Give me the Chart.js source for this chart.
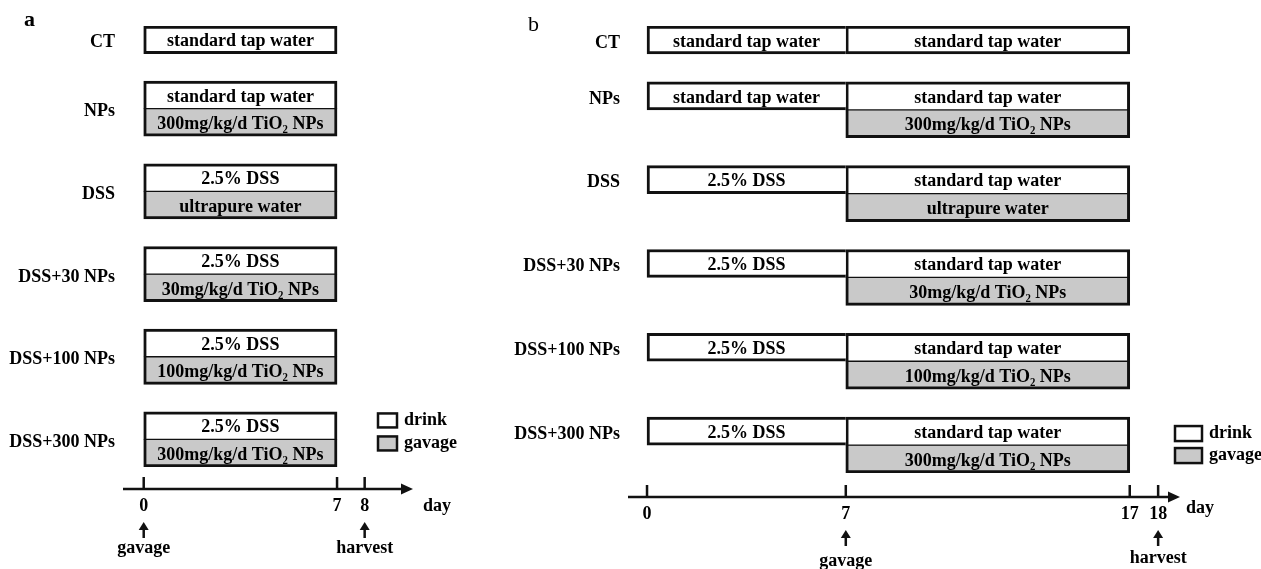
<!DOCTYPE html>
<html>
<head>
<meta charset="utf-8">
<script src="https://cdn.jsdelivr.net/npm/chart.js@4.4.1/dist/chart.umd.min.js"></script>
<style>
  body { margin: 0; background: #fff; }
  #wrap { position: relative; width: 1261px; height: 569px; overflow: hidden; }
  canvas { position: absolute; top: 0; }
  .panel { position: absolute; font-family: "Liberation Serif", "Times New Roman", serif; font-size: 22px; color: #000; }
</style>
</head>
<body>
<div id="wrap">
  <canvas id="chartA" width="490" height="569" style="left:0"></canvas>
  <canvas id="chartB" width="771" height="569" style="left:490px"></canvas>
  <span class="panel" style="left:24px; top:6px; font-weight:bold;">a</span>
  <span class="panel" style="left:528px; top:11px;">b</span>
</div>
<script>
// ---- data ----
const groups = ["CT", "NPs", "DSS", "DSS+30 NPs", "DSS+100 NPs", "DSS+300 NPs"];

// panel a
const drinkA = ["standard tap water", "standard tap water", "2.5% DSS", "2.5% DSS", "2.5% DSS", "2.5% DSS"];
const gavageA = [null, "300mg/kg/d TiO₂ NPs", "ultrapure water", "30mg/kg/d TiO₂ NPs", "100mg/kg/d TiO₂ NPs", "300mg/kg/d TiO₂ NPs"];
const drinkSpanA = [0, 7];
const gavageSpanA = [0, 7];
const ticksA = [0, 7, 8];
const eventDaysA = [0, 8];
const eventLabelsA = ["gavage", "harvest"];

// panel b
const drinkEarlyB = ["standard tap water", "standard tap water", "2.5% DSS", "2.5% DSS", "2.5% DSS", "2.5% DSS"];
const drinkLateB = ["standard tap water", "standard tap water", "standard tap water", "standard tap water", "standard tap water", "standard tap water"];
const gavageB = [null, "300mg/kg/d TiO₂ NPs", "ultrapure water", "30mg/kg/d TiO₂ NPs", "100mg/kg/d TiO₂ NPs", "300mg/kg/d TiO₂ NPs"];
const earlySpanB = [0, 7];
const lateSpanB = [7, 17];
const gavageSpanB = [7, 17];
const ticksB = [0, 7, 17, 18];
const eventDaysB = [7, 18];
const eventLabelsB = ["gavage", "harvest"];

const legendLabels = ["drink", "gavage"];

// ---- styles ----
const FONT = '"Liberation Serif", "Times New Roman", serif';
const FS = 18;
const GRAY = "#c9c9c9";
const INK = "#111";
const OUT = 3, IN = 1;

function buildRows(names, gavage) {
  const labels = [], drinkRow = [], gavageRow = [];
  names.forEach((g, i) => {
    drinkRow.push(labels.length); labels.push(g + " drink");
    if (gavage[i]) { gavageRow.push(labels.length); labels.push(g + " gavage"); }
    else gavageRow.push(null);
    if (i < names.length - 1) labels.push("gap " + i);
  });
  return { labels, drinkRow, gavageRow };
}

function fill(len, rows, value, texts) {
  const data = new Array(len).fill(null);
  const txt = new Array(len).fill(null);
  rows.forEach((r, i) => {
    if (r === null || r === undefined) return;
    if (texts && !texts[i]) return;
    data[r] = value;
    txt[r] = texts ? texts[i] : null;
  });
  return { data, txt };
}

function drawCentered(ctx, text, x, y, size) {
  ctx.font = "bold " + size + "px " + FONT;
  ctx.fillStyle = "#000";
  ctx.textAlign = "center";
  ctx.textBaseline = "middle";
  ctx.fillText(text, x, y);
}

const sketchPlugin = {
  id: "sketch",
  afterDatasetsDraw(chart, args, o) {
    const ctx = chart.ctx;
    const xs = chart.scales.x, ys = chart.scales.y;
    const area = chart.chartArea;
    ctx.save();
    // texts in bars
    chart.data.datasets.forEach((ds, di) => {
      chart.getDatasetMeta(di).data.forEach((bar, i) => {
        const t = ds.texts[i];
        if (!t) return;
        const p = bar.getProps(["x", "y", "base"], true);
        drawCentered(ctx, t, (p.x + p.base) / 2, p.y + 2, FS);
      });
    });
    // group labels
    ctx.font = "bold " + FS + "px " + FONT;
    ctx.textAlign = "right";
    ctx.textBaseline = "middle";
    ctx.fillStyle = "#000";
    o.groups.forEach((g, i) => {
      let yy = ys.getPixelForValue(o.rows.drinkRow[i]);
      if (o.labelAt === "group" && o.rows.gavageRow[i] !== null) {
        yy = (yy + ys.getPixelForValue(o.rows.gavageRow[i])) / 2;
      }
      ctx.fillText(g, area.left - 8, yy + 3);
    });
    // time axis with arrow
    const ay = area.bottom + o.axisGap;
    ctx.strokeStyle = INK;
    ctx.fillStyle = INK;
    ctx.lineWidth = 2.5;
    ctx.beginPath();
    ctx.moveTo(area.left, ay);
    ctx.lineTo(area.right - 8, ay);
    ctx.stroke();
    ctx.beginPath();
    ctx.moveTo(area.right, ay);
    ctx.lineTo(area.right - 12, ay - 5.5);
    ctx.lineTo(area.right - 12, ay + 5.5);
    ctx.closePath();
    ctx.fill();
    // tick marks above the axis
    o.ticks.forEach(v => {
      const px = xs.getPixelForValue(v);
      ctx.beginPath();
      ctx.moveTo(px, ay);
      ctx.lineTo(px, ay - 12);
      ctx.stroke();
    });
    // unit
    ctx.font = "bold " + FS + "px " + FONT;
    ctx.textAlign = "left";
    ctx.fillStyle = "#000";
    ctx.fillText("day", area.right + o.dayDx, ay + o.dayDy);
    // events
    o.eventDays.forEach((d, i) => {
      const px = xs.getPixelForValue(d);
      const tip = ay + 33;
      ctx.fillStyle = INK;
      ctx.lineWidth = 2.5;
      ctx.beginPath();
      ctx.moveTo(px, tip + 5);
      ctx.lineTo(px, tip + 16);
      ctx.stroke();
      ctx.beginPath();
      ctx.moveTo(px, tip);
      ctx.lineTo(px - 5, tip + 8);
      ctx.lineTo(px + 5, tip + 8);
      ctx.closePath();
      ctx.fill();
      drawCentered(ctx, o.eventLabels[i], px, ay + o.eventTextDy[i], FS);
    });
    // legend
    const last = o.groups.length - 1;
    const gc = (ys.getPixelForValue(o.rows.drinkRow[last]) + ys.getPixelForValue(o.rows.gavageRow[last])) / 2;
    const lx = area.right + o.legend.dx;
    let ly = gc + o.legend.dy;
    [ "#fff", GRAY ].forEach((c, i) => {
      ctx.fillStyle = c;
      ctx.fillRect(lx, ly, o.legend.w, o.legend.h);
      ctx.lineWidth = 2.5;
      ctx.strokeStyle = INK;
      ctx.strokeRect(lx, ly, o.legend.w, o.legend.h);
      ctx.font = "bold " + FS + "px " + FONT;
      ctx.fillStyle = "#000";
      ctx.textAlign = "left";
      ctx.textBaseline = "middle";
      ctx.fillText(legendLabels[i], lx + o.legend.w + 7, ly + o.legend.h / 2);
      ly += o.legend.h + o.legend.gap;
    });
    ctx.restore();
  }
};

function xScale(min, max, tickValues, pad, height) {
  return {
    type: "linear", min: min, max: max,
    afterBuildTicks: s => { s.ticks = tickValues.map(v => ({ value: v })); },
    afterFit: s => { s.height = height; },
    grid: { display: false, drawTicks: false },
    border: { display: false },
    ticks: { padding: pad, color: "#000", font: { family: FONT, size: FS, weight: "bold" }, maxRotation: 0 }
  };
}

// ---- panel a ----
const rowsA = buildRows(groups, gavageA);
const nA = rowsA.labels.length;
const dA = fill(nA, rowsA.drinkRow, drinkSpanA, drinkA);
const gA = fill(nA, rowsA.gavageRow, gavageSpanA, gavageA);

new Chart(document.getElementById("chartA"), {
  type: "bar",
  data: {
    labels: rowsA.labels,
    datasets: [
      { label: "drink", data: dA.data, texts: dA.txt, backgroundColor: "#fff", borderColor: INK,
        borderWidth: c => ({ top: OUT, left: OUT, right: OUT, bottom: gA.data[c.dataIndex + 1] ? IN : OUT }) },
      { label: "gavage", data: gA.data, texts: gA.txt, backgroundColor: GRAY, borderColor: INK,
        borderWidth: { top: IN, left: OUT, right: OUT, bottom: OUT } }
    ]
  },
  options: {
    indexAxis: "y", responsive: false, animation: false,
    grouped: false, barPercentage: 1, categoryPercentage: 1, borderSkipped: false,
    layout: { padding: { left: 123, right: 77, top: 26, bottom: 22 } },
    scales: {
      x: xScale(-0.75, 9.75, ticksA, 29, 80),
      y: { type: "category", display: false, offset: true }
    },
    plugins: {
      legend: { display: false }, tooltip: { enabled: false },
      sketch: { groups: groups, rows: rowsA, labelAt: "group", axisGap: 22, ticks: ticksA,
        eventDays: eventDaysA, eventLabels: eventLabelsA, dayDx: 10, dayDy: 17, eventTextDy: [59, 59],
        legend: { dx: -35, dy: -26, w: 19, h: 14, gap: 9 } }
    }
  },
  plugins: [sketchPlugin]
});

// ---- panel b ----
const rowsB = buildRows(groups, gavageB);
const nB = rowsB.labels.length;
const eB = fill(nB, rowsB.drinkRow, earlySpanB, drinkEarlyB);
const lB = fill(nB, rowsB.drinkRow, lateSpanB, drinkLateB);
const gB = fill(nB, rowsB.gavageRow, gavageSpanB, gavageB);

new Chart(document.getElementById("chartB"), {
  type: "bar",
  data: {
    labels: rowsB.labels,
    datasets: [
      { label: "drink 0-7", data: eB.data, texts: eB.txt, backgroundColor: "#fff", borderColor: INK,
        borderWidth: { top: OUT, left: OUT, right: 0, bottom: OUT } },
      { label: "drink 7-17", data: lB.data, texts: lB.txt, backgroundColor: "#fff", borderColor: INK,
        borderWidth: c => ({ top: OUT, left: OUT, right: OUT, bottom: gB.data[c.dataIndex + 1] ? IN : OUT }) },
      { label: "gavage", data: gB.data, texts: gB.txt, backgroundColor: GRAY, borderColor: INK,
        borderWidth: { top: IN, left: OUT, right: OUT, bottom: OUT } }
    ]
  },
  options: {
    indexAxis: "y", responsive: false, animation: false,
    grouped: false, barPercentage: 1, categoryPercentage: 1, borderSkipped: false,
    layout: { padding: { left: 138, right: 81, top: 26, bottom: 16 } },
    scales: {
      x: xScale(-0.67, 18.77, ticksB, 31, 80),
      y: { type: "category", display: false, offset: true }
    },
    plugins: {
      legend: { display: false }, tooltip: { enabled: false },
      sketch: { groups: groups, rows: rowsB, labelAt: "drink", axisGap: 24, ticks: ticksB,
        eventDays: eventDaysB, eventLabels: eventLabelsB, dayDx: 6, dayDy: 11, eventTextDy: [64, 61],
        legend: { dx: -5, dy: -19, w: 27, h: 15, gap: 7 } }
    }
  },
  plugins: [sketchPlugin]
});
</script>
</body>
</html>
